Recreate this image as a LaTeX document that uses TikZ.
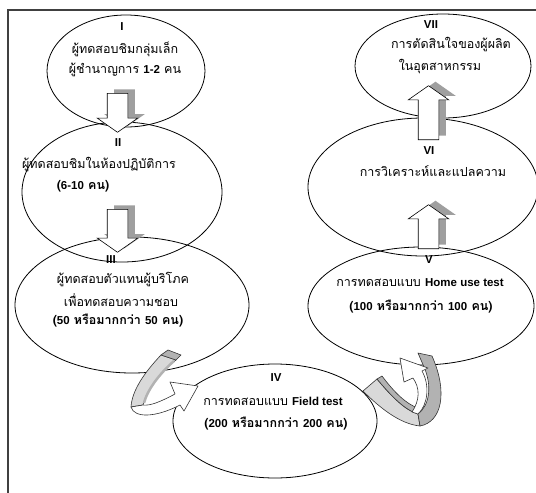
\documentclass[tikz,border=0pt]{standalone}
\usepackage{fontspec}
\newfontfamily\thaifont[Script=Thai]{Loma}
\newfontfamily\latinfont{Liberation Sans}
\usetikzlibrary{shapes.geometric,shapes.arrows}
\newcommand{\en}[1]{{\latinfont\bfseries\fontsize{11.5}{13}\selectfont #1}}
\tikzset{%
    phase/.style={draw, ellipse, line width=0.8pt, inner sep=0pt},
    txt/.style={inner sep=0pt, font=\thaifont\fontsize{12.5}{14}\selectfont},
    bold txt/.style={txt, font=\thaifont\bfseries\fontsize{12.5}{14}\selectfont},
    num/.style={inner sep=0pt, font=\latinfont\bfseries\fontsize{11.5}{13}\selectfont},
    blockarr/.style={single arrow, draw, fill=white, line width=0.6pt, inner xsep=0pt,
        inner ysep=10pt, single arrow head extend=10pt, single arrow tip angle=110},
    blockshadow/.style={blockarr, draw=none, fill=gray!75},
    ribbon/.style={draw=black!80, line width=0.6pt, line join=round}
}

\begin{document}
\begin{tikzpicture}[x=1pt,y=-1pt]
    \useasboundingbox (0,0) rectangle (536,493);
    \draw[line width=1.5pt, black!75] (536,10) -- (8,10) -- (8,493);

    % the seven steps
    \node[phase, minimum width=158pt, minimum height=112pt] (p1) at (126,71) {};
    \node[phase, minimum width=200pt, minimum height=140pt] (p2) at (122,192) {};
    \node[phase, minimum width=234pt, minimum height=136pt] (p3) at (132,305) {};
    \node[phase, minimum width=204pt, minimum height=114pt] (p4) at (275,421) {};
    \node[phase, minimum width=226pt, minimum height=118pt] (p5) at (421,306) {};
    \node[phase, minimum width=230pt, minimum height=138pt] (p6) at (423,187) {};
    \node[phase, minimum width=176pt, minimum height=104pt] (p7) at (443,66) {};

    % block arrows with their shadow
    \foreach \nm/\x/\y/\len/\rot in {a12/117.5/93/39/-90, a23/117.5/209/43/-90,
                                      a56/428.5/249/44/90, a67/428.5/140/54/90}{
        \node[blockshadow, minimum height=\len pt, rotate=\rot, anchor=tail] at (\x+7,\y-4) {};
        \node[blockarr, minimum height=\len pt, rotate=\rot, anchor=tail] (\nm) at (\x,\y) {};
    }

    % curved arrow III to IV
    \filldraw[ribbon, fill=gray!30] (161,355) .. controls (145,372) and (132,390) .. (131,407)
        -- (143,405) .. controls (146,392) and (158,374) .. (176,360) -- cycle;
    \draw[gray!60, line width=2.5pt] (144,403) .. controls (147,391) and (158,375) .. (174,361);
    \filldraw[ribbon, fill=gray!60] (161,355) -- (168,350) -- (181,355) -- (176,360) -- cycle;
    \filldraw[ribbon, fill=white] (131,407) .. controls (134,418) and (155,418) .. (180,405)
        -- (184,411) -- (198,386) -- (170,382) -- (175,394)
        .. controls (160,402) and (150,406) .. (143,405) -- cycle;

    % curved arrow IV to V
    \filldraw[ribbon, fill=gray!30] (363,391) -- (377,379) .. controls (392,397) and (405,410) .. (418,414)
        -- (420,426) .. controls (400,424) and (380,408) .. (363,391) -- cycle;
    \filldraw[ribbon, fill=gray!60] (377,379) .. controls (392,397) and (405,410) .. (418,414)
        -- (418,408) .. controls (406,404) and (394,392) .. (382,376) -- cycle;
    \filldraw[ribbon, fill=gray!60] (420,426) .. controls (442,422) and (448,392) .. (432,356)
        -- (418,353) -- (424,367) .. controls (432,385) and (430,405) .. (418,414) -- cycle;
    \filldraw[ribbon, fill=white] (412,412) .. controls (420,400) and (420,388) .. (413,378)
        -- (404,382) -- (400,358) -- (428,368) -- (422,371)
        .. controls (430,385) and (428,405) .. (418,414) -- cycle;

    % texts
    \node[num] (n1) at (122,27) {I};
    \node[txt] (t1a) at (125,49) {ผู้ทดสอบชิมกลุ่มเล็ก};
    \node[txt] (t1b) at (125,70) {ผู้ชำนาญการ \en{1-2} คน};

    \node[num] (n2) at (118,143) {II};
    \node[txt] (t2a) at (99,165) {ผู้ทดสอบชิมในห้องปฏิบัติการ};
    \node[bold txt] (t2b) at (83,186) {(\en{6-10} คน)};

    \node[num] (n3) at (111,260) {III};
    \node[txt] (t3a) at (123,279) {ผู้ทดสอบตัวแทนผู้บริโภค};
    \node[txt] (t3b) at (121,300) {เพื่อทดสอบความชอบ};
    \node[bold txt] (t3c) at (118,321) {(\en{50} หรือมากกว่า \en{50} คน)};

    \node[num] (n4) at (276,378) {IV};
    \node[txt] (t4a) at (273,401) {การทดสอบแบบ \en{Field test}};
    \node[bold txt] (t4b) at (276,424) {(\en{200} หรือมากกว่า \en{200} คน)};

    \node[num] (n5) at (429,260) {V};
    \node[txt] (t5a) at (420,283) {การทดสอบแบบ \en{Home use test}};
    \node[bold txt] (t5b) at (421,307) {(\en{100} หรือมากกว่า \en{100} คน)};

    \node[num] (n6) at (429,151) {VI};
    \node[txt] (t6a) at (433,171) {การวิเคราะห์และแปลความ};

    \node[num] (n7) at (431,25) {VII};
    \node[txt] (t7a) at (451,45) {การตัดสินใจของผู้ผลิต};
    \node[txt] (t7b) at (440,67) {ในอุตสาหกรรม};
\end{tikzpicture}
\end{document}
